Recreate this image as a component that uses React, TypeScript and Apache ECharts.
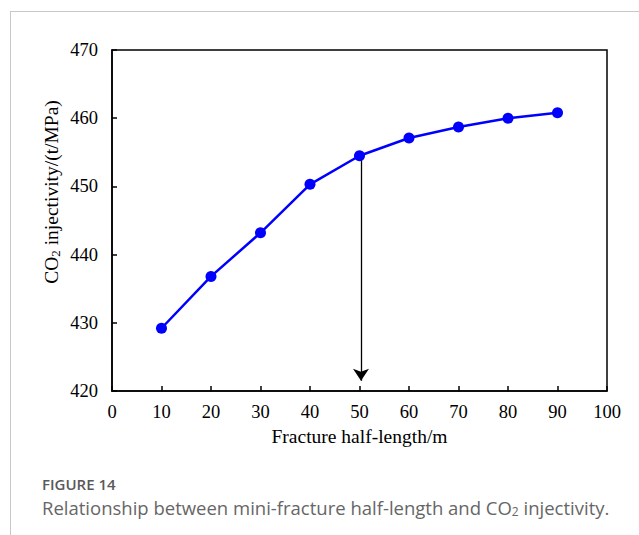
import React, { useEffect, useRef } from "react";
import * as echarts from "echarts";

const halfLengths = [10, 20, 30, 40, 50, 60, 70, 80, 90];
const injectivity = [429.2, 436.8, 443.2, 450.3, 454.5, 457.1, 458.7, 460.0, 460.8];
const arrowX = 50.3;
const arrowTop = 454.5;
const arrowBottom = 421.5;
const xTicks = { min: 0, max: 100, interval: 10 };
const yTicks = { min: 420, max: 470, interval: 10 };
const figureLabel = "FIGURE 14";

export default function App() {
  const ref = useRef<HTMLDivElement>(null);
  useEffect(() => {
    if (!ref.current) return;
    const chart = echarts.init(ref.current, null, { renderer: "svg" });
    const serif = "'Liberation Serif', 'Times New Roman', serif";
    const sans = "'Open Sans', 'Noto Sans', sans-serif";
    chart.setOption({
      animation: false,
      backgroundColor: "#fff",
      grid: {
        left: 112,
        right: 32,
        top: 50,
        bottom: 144,
        show: true,
        borderColor: "#000",
        borderWidth: 1.5,
        backgroundColor: "transparent",
      },
      xAxis: {
        type: "value",
        min: xTicks.min,
        max: xTicks.max,
        interval: xTicks.interval,
        name: "Fracture half-length/m",
        nameLocation: "middle",
        nameGap: 35,
        nameTextStyle: { fontFamily: serif, fontSize: 19.5, color: "#000" },
        axisLine: { show: true, lineStyle: { color: "#000", width: 1.5 } },
        axisTick: { show: true, inside: true, length: 5, lineStyle: { color: "#000", width: 1.5 } },
        axisLabel: { fontFamily: serif, fontSize: 18.5, color: "#000", margin: 11 },
        splitLine: { show: false },
      },
      yAxis: {
        type: "value",
        min: yTicks.min,
        max: yTicks.max,
        interval: yTicks.interval,
        axisLine: { show: true, lineStyle: { color: "#000", width: 1.5 } },
        axisTick: { show: true, inside: true, length: 5, lineStyle: { color: "#000", width: 1.5 } },
        axisLabel: { fontFamily: serif, fontSize: 18.5, color: "#000", margin: 14 },
        splitLine: { show: false },
      },
      series: [
        {
          type: "line",
          data: halfLengths.map((x, i) => [x, injectivity[i]]),
          symbol: "circle",
          symbolSize: 11,
          itemStyle: { color: "#0000ff" },
          lineStyle: { color: "#0000ff", width: 2.5 },
          z: 3,
          markLine: {
            silent: true,
            symbol: ["none", "arrow"],
            symbolSize: 12,
            label: { show: false },
            lineStyle: { color: "#000", width: 1.3, type: "solid" },
            z: 2,
            data: [[{ coord: [arrowX, arrowTop] }, { coord: [arrowX, arrowBottom] }]],
          },
        },
      ],
      graphic: [
        { type: "line", shape: { x1: 10, y1: 11.5, x2: 639, y2: 11.5 }, style: { stroke: "#c8c8c8", lineWidth: 1 } },
        { type: "line", shape: { x1: 10.5, y1: 11, x2: 10.5, y2: 535 }, style: { stroke: "#c8c8c8", lineWidth: 1 } },
        {
          type: "text",
          x: 51,
          y: 192,
          rotation: Math.PI / 2,
          style: {
            text: "{n|CO}{s|2}{n| injectivity/(t/MPa)}",
            align: "center",
            verticalAlign: "middle",
            fontFamily: serif,
            fontSize: 19.5,
            fill: "#000",
            rich: {
              n: { fontFamily: serif, fontSize: 19.5, fill: "#000" },
              s: { fontFamily: serif, fontSize: 13, fill: "#000", verticalAlign: "bottom", padding: [9, 0, 0, 0] },
            },
          },
        },
        {
          type: "text",
          x: 42,
          y: 484,
          style: {
            text: figureLabel,
            fontFamily: sans,
            fontSize: 15,
            fontWeight: 600,
            lineHeight: 15,
            fill: "#595959",
            verticalAlign: "middle",
          },
        },
        {
          type: "text",
          x: 42,
          y: 507,
          style: {
            text: "{n|Relationship between mini-fracture half-length and CO}{s|2}{n| injectivity.}",
            fontFamily: sans,
            fontSize: 18.5,
            lineHeight: 20,
            fill: "#666",
            verticalAlign: "middle",
            rich: {
              n: { fontFamily: sans, fontSize: 18.5, lineHeight: 20, fill: "#666" },
              s: { fontFamily: sans, fontSize: 12, lineHeight: 20, fill: "#666", verticalAlign: "bottom", padding: [6, 0, 0, 0] },
            },
          },
        },
      ],
    });
    return () => chart.dispose();
  }, []);
  return <div ref={ref} style={{ position: "fixed", left: 0, top: 0, width: 639, height: 535 }} />;
}
